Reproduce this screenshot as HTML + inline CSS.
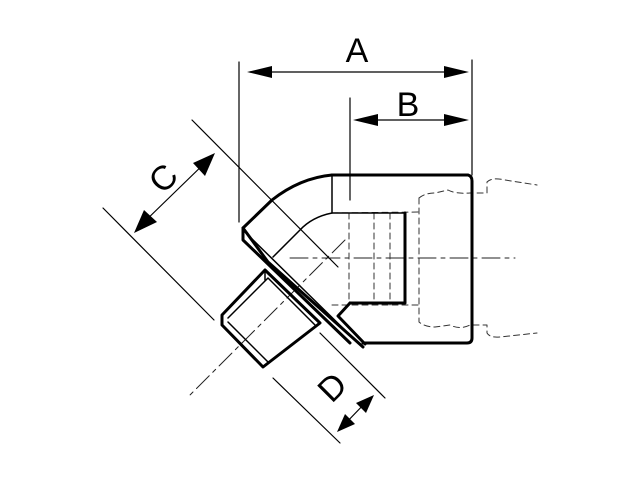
<!DOCTYPE html>
<html><head><meta charset="utf-8"><style>html,body{margin:0;padding:0;background:#fff}svg{display:block}</style></head><body>
<svg width="640" height="480" viewBox="0 0 640 480" xmlns="http://www.w3.org/2000/svg" fill="none" stroke="#000" stroke-linecap="round" stroke-linejoin="round">
<!-- centerlines -->
<g stroke-width="1" stroke-dasharray="18,5,4,5" stroke="#222">
<line x1="290" y1="258" x2="515" y2="258"/>
<line x1="345" y1="240" x2="188" y2="397"/>
</g>
<!-- hidden lines -->
<g stroke-width="1" stroke-dasharray="6,4" stroke="#333">
<path d="M419,198 L419,322 Q425,327 435,327 L450,325 Q460,330 470,325 L487,325 L487,333 Q490,338 500,337 L537,333"/>
<path d="M419,198 Q425,193 435,193 L448,190 Q455,194 470,193 L487,193 L487,182 Q492,177 505,180 L537,185"/>
<line x1="332" y1="213" x2="419" y2="212"/>
<line x1="332" y1="305" x2="419" y2="305"/>
<line x1="349" y1="213" x2="349" y2="305"/>
<line x1="374" y1="213" x2="374" y2="305"/>
<line x1="390" y1="213" x2="390" y2="305"/>
</g>
<!-- extension lines -->
<g stroke-width="1.2">
<line x1="239" y1="62" x2="239" y2="222"/>
<line x1="472" y1="60" x2="472" y2="175"/>
<line x1="350" y1="98" x2="350" y2="200"/>
<line x1="192" y1="120" x2="338" y2="267"/>
<line x1="103" y1="208" x2="214" y2="320"/>
<line x1="273" y1="378" x2="340" y2="443"/>
<line x1="320" y1="333" x2="385" y2="398"/>
</g>
<!-- dimension lines -->
<g stroke-width="1.2">
<line x1="250" y1="72" x2="462" y2="72"/>
<line x1="360" y1="120" x2="462" y2="120"/>
<line x1="140" y1="226" x2="210" y2="158"/>
<line x1="342" y1="427" x2="368" y2="400"/>
</g>
<g fill="#000" stroke="none">
<polygon points="247,72 272,66 272,78"/>
<polygon points="469,72 444,66 444,78"/>
<polygon points="353,120 378,114 378,126"/>
<polygon points="469,120 444,114 444,126"/>
<polygon points="134,233 144,210 157,222"/>
<polygon points="215,153 193,163 205,176"/>
<polygon points="337,432 345,414 355,424"/>
<polygon points="374,395 356,403 366,413"/>
</g>
<!-- body -->
<g stroke-width="3">
<path d="M332,175 L468,175 Q472,176 472,181 L472,338 Q472,343 467,343 L363,343"/>
<path d="M332,175 Q300,178 272,200 L243,228 L243,240 L350,343"/>
<path d="M243,228 L268,262 L363,347"/>
<path d="M405,213 L405,303 L350,303"/>
<path d="M350,303 L338,316 L365,344"/>
<path d="M222,315 L265,270 L320,323 L263,367 L222,325 Z"/>
</g>
<g stroke-width="1.5">
<path d="M332,175 L332,213 L405,213"/>
<path d="M332,213 Q312,217 300,230 L273,257"/>
<path d="M228,318 L268,278 L315,325"/>
<path d="M228,322 L268,362"/>
<path d="M248,235 L355,340"/>
<line x1="265" y1="270" x2="265" y2="280"/>
</g>
<!-- labels -->
<g font-family="Liberation Sans, sans-serif" font-size="34" fill="#000" stroke="none" text-anchor="middle">
<text x="357" y="62">A</text>
<text x="408" y="116">B</text>
<text x="0" y="0" transform="translate(163,178) rotate(-45) translate(0,12)">C</text>
<text x="0" y="0" transform="translate(332,387) rotate(-45) translate(0,12)">D</text>
</g>
</svg>
</body></html>
